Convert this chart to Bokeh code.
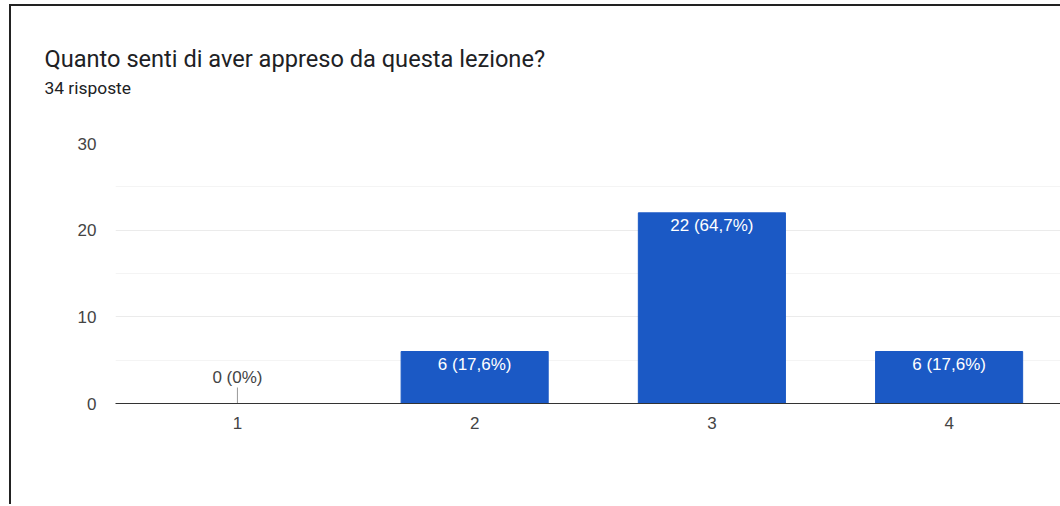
import math
from bokeh.plotting import figure
from bokeh.models import Range1d, FixedTicker, Title, ColumnDataSource
from bokeh.core.properties import value
from bokeh.embed import file_html
from bokeh.resources import INLINE

title_text = "Quanto senti di aver appreso da questa lezione?"
subtitle_text = "34 risposte"
categories = [1, 2, 3, 4]
counts = [0, 6, 22, 6]
pct_labels = ["0 (0%)", "6 (17,6%)", "22 (64,7%)", "6 (17,6%)"]
y_ticks = [0, 10, 20, 30]
y_minor = [5, 15, 25]

FONT = "Liberation Sans"
TFONT = "Roboto"
BAR = "#1b59c5"
OX, OY = 11, 6  # canvas origin after the card border

p = figure(width=1060 - OX + 2, height=506 - OY, output_backend="svg", toolbar_location=None,
           x_range=Range1d(0.486, 4.478), y_range=Range1d(0, 30),
           min_border_left=115 - OX, min_border_right=0, min_border_top=143 - OY,
           min_border_bottom=103)
p.styles = {"border-left": "2px solid #222222", "border-top": "2px solid #222222",
            "margin-left": "9px", "margin-top": "4px"}
p.outline_line_color = None
p.title.visible = False

# axes
p.xaxis.ticker = FixedTicker(ticks=categories)
p.yaxis.ticker = FixedTicker(ticks=y_ticks, minor_ticks=y_minor)
for ax in (p.xaxis[0], p.yaxis[0]):
    ax.major_tick_line_color = None
    ax.minor_tick_line_color = None
    ax.major_label_text_font = FONT
    ax.major_label_text_font_size = "17px"
    ax.major_label_text_color = "#444444"
p.yaxis.axis_line_color = None
p.xaxis.axis_line_color = "#333333"
p.xaxis.major_label_standoff = 7
p.yaxis.major_label_standoff = 13
p.xgrid.grid_line_color = None
p.ygrid.grid_line_color = "#ebebeb"
p.ygrid.minor_grid_line_color = "#f4f4f4"

src = ColumnDataSource(dict(x=categories, top=counts, lab=pct_labels))
p.vbar(x="x", top="top", width=0.62, source=src, fill_color=BAR, line_color=BAR)

nz = [i for i, c in enumerate(counts) if c > 0]
z = [i for i, c in enumerate(counts) if c == 0]
src_nz = ColumnDataSource(dict(x=[categories[i] for i in nz], y=[counts[i] for i in nz],
                               lab=[pct_labels[i] for i in nz]))
p.text(x="x", y="y", text="lab", source=src_nz, text_color="white", text_font=value(FONT),
       text_font_size="17px", text_align="center", text_baseline="top", y_offset=3)

src_z = ColumnDataSource(dict(x=[categories[i] for i in z], y=[counts[i] for i in z],
                              lab=[pct_labels[i] for i in z]))
p.ray(x="x", y="y", length=16, length_units="screen", angle=math.pi / 2, source=src_z,
      line_color="#999999", line_width=1)
p.text(x="x", y="y", text="lab", source=src_z, text_color="#444444", text_font=value(FONT),
       text_font_size="17px", text_align="center", text_baseline="bottom", y_offset=-17)

# spacer panel, subtitle, title (stacked upward from the frame)
p.add_layout(Title(text=" ", text_font_size="10px", standoff=33), "above")
p.add_layout(Title(text=subtitle_text, align="left", offset=-(115 - 44), text_font=TFONT,
                   text_font_size="17.4px", text_font_style="normal", text_color="#202124",
                   standoff=0), "above")
p.add_layout(Title(text=title_text, align="left", offset=-(115 - 44), text_font=TFONT,
                   text_font_size="23.6px", text_font_style="normal", text_color="#202124",
                   standoff=6), "above")

open("out.html", "w").write(file_html(p, INLINE))
